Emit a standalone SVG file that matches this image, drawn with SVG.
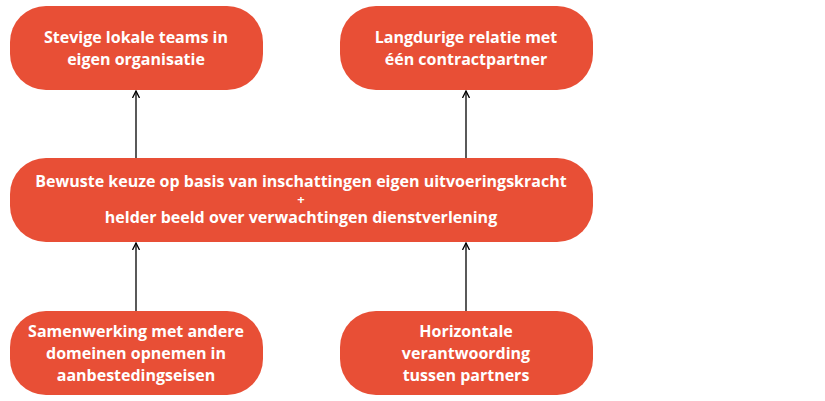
<svg xmlns="http://www.w3.org/2000/svg" width="825" height="401" viewBox="0 0 825 401">
<defs>
<style>
.n{fill:#E84F36}
.t{fill:#fff;font-family:"Open Sans","Liberation Sans",sans-serif;font-weight:bold;font-size:16px;text-anchor:middle}
.p{font-size:13px}
.c{stroke:#000;stroke-width:1.3;fill:none;marker-end:url(#a)}
</style>
<marker id="a" markerWidth="8" markerHeight="8" refX="7" refY="4" orient="auto" markerUnits="userSpaceOnUse"><path d="M0,0.5 L7,4 L0,7.5" fill="none" stroke="#000" stroke-width="1.3"/></marker>
</defs>
<rect width="825" height="401" fill="#fff"/>
<g id="n1"><rect class="n" x="10" y="6" width="253" height="84" rx="36"/><text class="t" x="136" y="43">Stevige lokale teams in</text><text class="t" x="136" y="65">eigen organisatie</text></g>
<g id="n2"><rect class="n" x="340" y="6" width="253" height="84" rx="36"/><text class="t" x="466" y="43">Langdurige relatie met</text><text class="t" x="466" y="65">één contractpartner</text></g>
<g id="n3"><rect class="n" x="10" y="158" width="583" height="84" rx="36"/><text class="t" x="301" y="187">Bewuste keuze op basis van inschattingen eigen uitvoeringskracht</text><text class="t p" x="301" y="204">+</text><text class="t" x="301" y="223">helder beeld over verwachtingen dienstverlening</text></g>
<g id="n4"><rect class="n" x="10" y="311" width="253" height="84" rx="36"/><text class="t" x="136" y="337">Samenwerking met andere</text><text class="t" x="136" y="359">domeinen opnemen in</text><text class="t" x="136" y="381">aanbestedingseisen</text></g>
<g id="n5"><rect class="n" x="340" y="311" width="253" height="84" rx="36"/><text class="t" x="466" y="337">Horizontale</text><text class="t" x="466" y="359">verantwoording</text><text class="t" x="466" y="381">tussen partners</text></g>
<g id="connectors">
<path class="c" d="M136,158 V91"/>
<path class="c" d="M466,158 V91"/>
<path class="c" d="M136,311 V243"/>
<path class="c" d="M466,311 V243"/>
</g>
</svg>
